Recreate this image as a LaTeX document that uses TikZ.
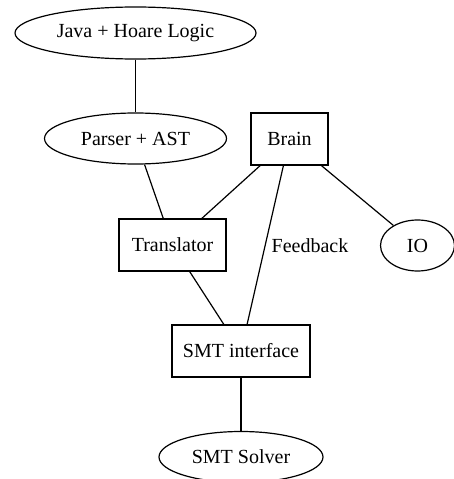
\documentclass[tikz,border=0pt]{standalone}
\usepackage{fontspec}
\setmainfont{Liberation Serif}
\usetikzlibrary{shapes.geometric}
\begin{document}
\begin{tikzpicture}[x=1pt,y=-1pt,
  every node/.style={font=\rmfamily\fontsize{20}{24}\selectfont, inner sep=0pt},
  oval/.style={draw, ellipse, line width=1.2pt},
  rect/.style={draw, rectangle, line width=1.2pt},
  link/.style={line width=1.2pt}]
% canvas
\fill[white] (0,0) rectangle (454,479);
\useasboundingbox (0,0) rectangle (454,479);

% nodes
\node[oval, minimum width=241pt, minimum height=52pt] (java)   at (135.5,33)  {Java + Hoare Logic};
\node[oval, minimum width=182pt, minimum height=51pt] (parser) at (135.5,138.5) {Parser + AST};
\node[rect, minimum width=77pt,  minimum height=52pt] (brain)  at (289.5,139) {Brain};
\node[rect, minimum width=107pt, minimum height=52pt] (trans)  at (172.5,245) {Translator};
\node[oval, minimum width=74pt,  minimum height=51pt] (io)     at (417.5,245.5) {IO};
\node[rect, minimum width=138pt, minimum height=52pt] (smt)    at (241,351)   {SMT interface};
\node[oval, minimum width=164pt, minimum height=51pt] (solver) at (241,457)   {SMT Solver};
\node (fb) at (310,245.5) {Feedback};

% connectors
\draw[link] (java) -- (parser);
\draw[link] (parser) -- (trans);
\draw[link] (brain) -- (trans);
\draw[link] (brain) -- (smt);
\draw[link] (brain) -- (io);
\draw[link] (trans) -- (smt);
\draw[link] (smt) -- (solver);
\end{tikzpicture}
\end{document}
